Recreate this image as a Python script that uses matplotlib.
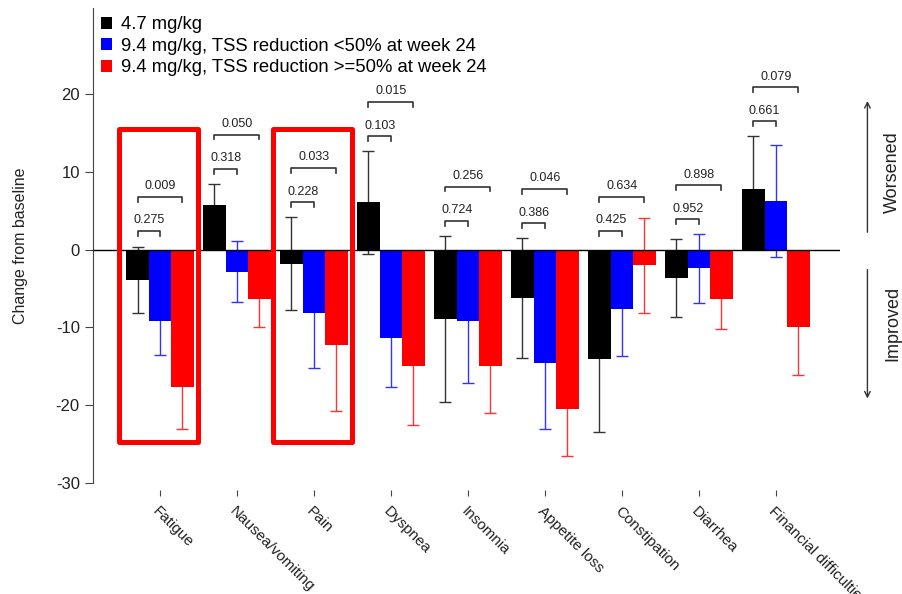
import matplotlib
matplotlib.use("Agg")
import matplotlib.pyplot as plt
import numpy as np
from matplotlib.patches import Patch, Rectangle

plt.rcParams['font.family'] = ['Liberation Sans', 'DejaVu Sans']
plt.rcParams['axes.unicode_minus'] = False

categories = ["Fatigue", "Nausea/vomiting", "Pain", "Dyspnea", "Insomnia",
              "Appetite loss", "Constipation", "Diarrhea", "Financial difficulties"]
series_labels = ["4.7 mg/kg",
                 "9.4 mg/kg, TSS reduction <50% at week 24",
                 "9.4 mg/kg, TSS reduction >=50% at week 24"]

# mean change from baseline and SD
low_mean = [-3.9, 5.7, -1.8, 6.1, -8.9, -6.2, -14.1, -3.6, 7.8]
low_sd = [4.2, 2.8, 6.0, 6.6, 10.7, 7.7, 9.3, 5.0, 6.8]
nonresp_mean = [-9.2, -2.8, -8.1, -11.4, -9.2, -14.6, -7.6, -2.4, 6.3]
nonresp_sd = [4.4, 3.9, 7.1, 6.3, 7.9, 8.5, 6.1, 4.4, 7.2]
resp_mean = [-17.7, -6.3, -12.3, -14.9, -14.9, -20.5, -2.0, -6.3, -9.9]
resp_sd = [5.4, 3.6, 8.4, 7.7, 6.1, 6.0, 6.1, 3.9, 6.2]

# p-values vs the 4.7 mg/kg group
p_nonresp = ["0.275", "0.318", "0.228", "0.103", "0.724", "0.386", "0.425", "0.952", "0.661"]
p_resp = ["0.009", "0.050", "0.033", "0.015", "0.256", "0.046", "0.634", "0.898", "0.079"]

highlighted = ["Fatigue", "Pain"]

bar_colors = ["black", "#0000ff", "#ff0000"]
err_colors = ["#333333", "#3333ff", "#ff3333"]


def bracket(ax, x1, x2, h, text):
	tick = 0.6
	ax.plot([x1, x1, x2, x2], [h - tick, h, h, h - tick], color="#333333", lw=1.2, zorder=5)
	ax.text((x1 + x2) / 2, h + 0.6, text, ha="center", va="bottom", fontsize=9, color="#222222")


def main():
	fig = plt.figure(figsize=(9.03, 5.94), dpi=100)
	ax = fig.add_axes([0.103, 0.187, 0.827, 0.7995])

	x = np.arange(len(categories))
	w = 0.292
	means = [np.array(low_mean), np.array(nonresp_mean), np.array(resp_mean)]
	sds = [np.array(low_sd), np.array(nonresp_sd), np.array(resp_sd)]

	for k in range(3):
		xs = x + (k - 1) * w
		ax.errorbar(xs, means[k], yerr=sds[k], fmt="none", ecolor=err_colors[k],
		            elinewidth=1, capsize=4, capthick=1, zorder=2)
		ax.bar(xs, means[k], width=w, color=bar_colors[k], zorder=3)

	ax.axhline(0, color="black", lw=1, zorder=4)

	# significance brackets
	for i in range(len(categories)):
		top = max(means[0][i] + sds[0][i], means[1][i] + sds[1][i], 0.5)
		h1 = top + 1.9
		h2 = h1 + 4.4
		bracket(ax, x[i] - w, x[i], h1, p_nonresp[i])
		bracket(ax, x[i] - w, x[i] + w, h2, p_resp[i])

	# red highlight boxes
	for name in highlighted:
		i = categories.index(name)
		ax.add_patch(Rectangle((i - 0.53, -24.7), 1.03, 40.2, fill=False,
		                       edgecolor="red", lw=3.6, joinstyle="round", zorder=6))

	ax.set_xlim(-0.87, 8.83)
	ax.set_ylim(-30, 31.1)
	ax.set_yticks([-30, -20, -10, 0, 10, 20])
	ax.set_xticks(x)
	ax.set_xticklabels(categories)

	for s in ["top", "right", "bottom"]:
		ax.spines[s].set_visible(False)
	ax.spines["bottom"].set_position(("outward", 5))
	ax.spines["left"].set_color("#444444")
	ax.tick_params(axis="y", length=6, color="#444444", labelsize=12, labelcolor="#222222")
	ax.tick_params(axis="x", length=4, color="#444444", pad=6, labelsize=11, labelcolor="#222222")
	plt.setp(ax.get_xticklabels(), rotation=-45, ha="left", va="top", rotation_mode="anchor")
	ax.set_ylabel("Change from baseline", fontsize=11.5, color="#222222", labelpad=20)

	handles = [Patch(facecolor=c) for c in bar_colors]
	ax.legend(handles, series_labels, loc="upper left", bbox_to_anchor=(-0.008, 1.012),
	          frameon=False, fontsize=13.3, handlelength=0.62, handleheight=0.62,
	          handletextpad=0.45, labelspacing=0.25, borderaxespad=0.55, borderpad=0.2)

	# worsened / improved arrows on the right
	tr = ax.get_yaxis_transform()
	ax.annotate("", xy=(1.037, 19.5), xytext=(1.037, 1.9), xycoords=tr, textcoords=tr,
	            arrowprops=dict(arrowstyle="->", color="#333333", lw=1), annotation_clip=False)
	ax.annotate("", xy=(1.037, -19.5), xytext=(1.037, -2.2), xycoords=tr, textcoords=tr,
	            arrowprops=dict(arrowstyle="->", color="#333333", lw=1), annotation_clip=False)
	ax.text(1.071, 10.0, "Worsened", transform=tr, rotation=90, ha="center", va="center",
	        fontsize=13, color="#222222")
	ax.text(1.071, -9.5, "Improved", transform=tr, rotation=90, ha="center", va="center",
	        fontsize=13, color="#222222")

	plt.savefig("out.png", dpi=100)


if __name__ == "__main__":
	main()
